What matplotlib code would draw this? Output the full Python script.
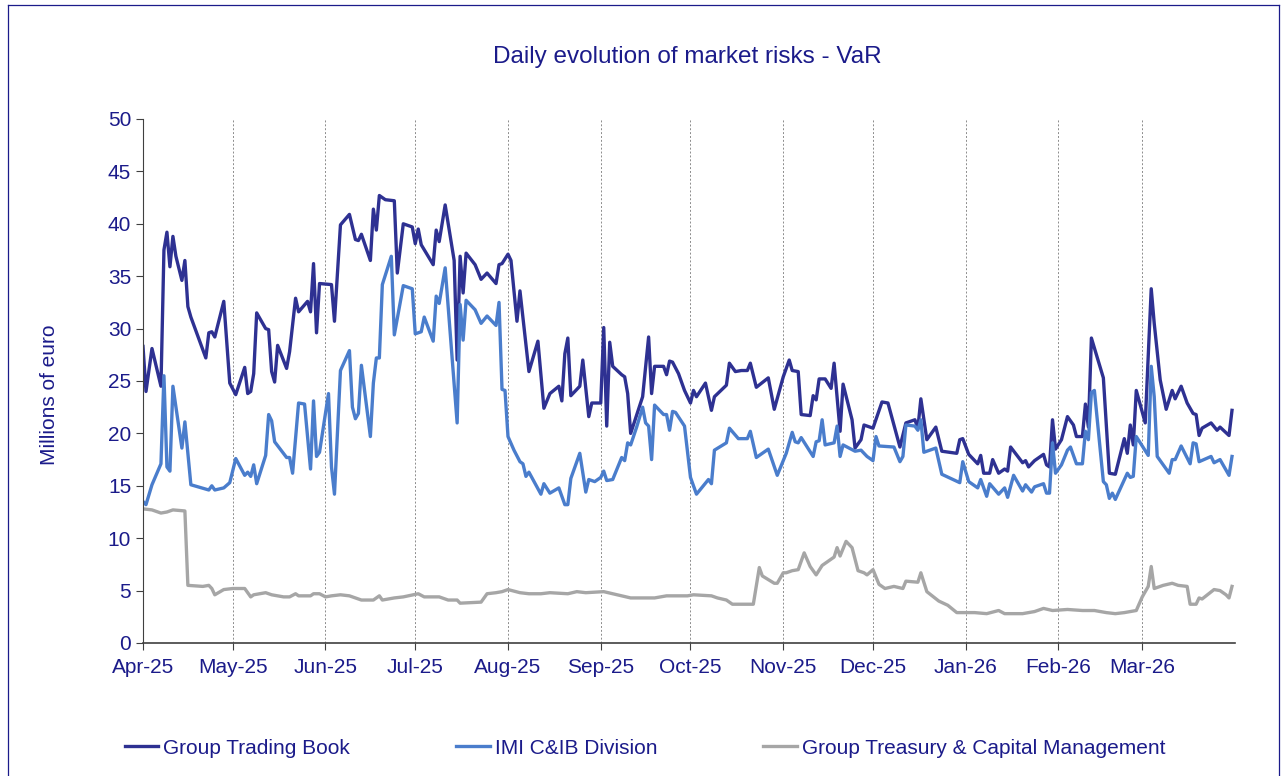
import pandas as pd
import matplotlib.pyplot as plt
import matplotlib.dates as mdates
from matplotlib.lines import Line2D

plt.rcParams['font.family'] = ['Liberation Sans', 'DejaVu Sans']

# dati: giorno dal 1 aprile 2025 -> VaR (milioni di euro)
gtb_day = [0, 1, 3, 6, 7, 8, 9, 10, 11, 13, 14, 15, 16, 21, 22, 23, 24, 27, 29, 31,
           34, 35, 36, 37, 38, 41, 42, 43, 44, 45, 48, 49, 51, 52, 55, 56, 57, 58, 59, 63,
           64, 66, 69, 71, 72, 73, 76, 77, 78, 79, 81, 84, 85, 87, 90, 91, 92, 93, 97, 98,
           99, 101, 104, 105, 106, 107, 108, 111, 113, 115, 118, 119, 120, 122, 123, 125, 126, 129, 132, 134,
           136, 139, 140, 141, 142, 143, 146, 147, 149, 150, 153, 154, 155, 156, 157, 160, 161, 162, 163, 167,
           169, 170, 171, 174, 175, 176, 177, 179, 181, 183, 184, 185, 188, 190, 191, 195, 196, 198, 200, 202,
           203, 205, 209, 211, 214, 216, 217, 219, 220, 223, 224, 225, 226, 228, 230, 231, 233, 234, 237, 238,
           240, 241, 244, 247, 249, 253, 255, 258, 259, 260, 262, 265, 267, 272, 273, 274, 276, 279, 280, 281,
           283, 284, 286, 288, 289, 290, 294, 295, 296, 298, 301, 302, 303, 304, 305, 307, 309, 311, 312, 314,
           315, 316, 317, 321, 323, 325, 328, 329, 330, 331, 332, 335, 337, 338, 340, 342, 344, 345, 347, 349,
           351, 352, 353, 354, 357, 359, 360, 363, 364]
gtb_val = [28.3, 24.0, 28.1, 24.5, 37.5, 39.2, 35.9, 38.8, 36.9, 34.6, 36.5, 32.1, 31.1, 27.2, 29.6, 29.7, 29.2, 32.6, 24.8, 23.7,
           26.3, 23.8, 24.0, 25.7, 31.5, 30.0, 29.9, 25.9, 24.9, 28.4, 26.2, 27.8, 32.9, 31.6, 32.6, 31.6, 36.2, 29.6, 34.3, 34.2,
           30.7, 39.9, 40.9, 38.5, 38.4, 39.0, 36.5, 41.4, 39.4, 42.7, 42.3, 42.2, 35.3, 40.0, 39.7, 38.1, 39.5, 38.0, 36.1, 39.4,
           38.3, 41.8, 36.5, 27.0, 36.9, 33.4, 37.2, 36.1, 34.7, 35.3, 34.3, 36.1, 36.2, 37.1, 36.5, 30.7, 33.6, 25.9, 28.8, 22.4,
           23.8, 24.5, 23.1, 27.6, 29.1, 23.6, 24.5, 27.0, 21.6, 22.9, 22.9, 30.1, 20.7, 28.7, 26.4, 25.6, 25.4, 23.8, 20.0, 23.5,
           29.2, 23.8, 26.4, 26.4, 25.6, 26.9, 26.8, 25.7, 24.1, 22.9, 24.1, 23.5, 24.8, 22.2, 23.5, 24.6, 26.7, 25.9, 26.0, 26.0,
           26.7, 24.4, 25.3, 22.3, 25.4, 27.0, 26.0, 25.9, 21.8, 21.7, 23.6, 23.2, 25.2, 25.2, 24.3, 26.7, 20.2, 24.7, 21.3, 18.6,
           19.4, 20.8, 20.5, 23.0, 22.9, 18.7, 21.0, 21.3, 20.5, 23.3, 19.4, 20.6, 18.3, 18.1, 19.4, 19.5, 18.0, 17.1, 17.9, 16.2,
           16.2, 17.5, 16.2, 16.6, 16.4, 18.7, 17.2, 17.4, 16.8, 17.4, 18.0, 17.0, 16.8, 21.3, 18.5, 19.4, 21.6, 20.8, 19.7, 19.7,
           22.8, 20.6, 29.1, 25.3, 16.2, 16.1, 19.5, 18.1, 20.8, 18.9, 24.1, 21.0, 33.8, 30.5, 25.1, 22.3, 24.1, 23.3, 24.5, 22.9,
           21.9, 21.8, 19.8, 20.5, 21.0, 20.3, 20.6, 19.8, 22.2]

imi_day = [0, 1, 3, 6, 7, 8, 9, 10, 13, 14, 16, 22, 23, 24, 27, 29, 31, 34, 35, 36,
           37, 38, 41, 42, 43, 44, 48, 49, 50, 52, 54, 56, 57, 58, 59, 62, 63, 64, 66, 69,
           70, 71, 72, 73, 76, 77, 78, 79, 80, 83, 84, 87, 90, 91, 93, 94, 97, 98, 99, 101,
           105, 106, 107, 108, 111, 113, 115, 118, 119, 120, 121, 122, 124, 126, 127, 128, 129, 133, 134, 136,
           139, 141, 142, 143, 146, 148, 149, 151, 153, 154, 155, 157, 160, 161, 162, 163, 165, 167, 168, 169,
           170, 171, 174, 175, 176, 177, 178, 181, 183, 185, 189, 190, 191, 195, 196, 199, 202, 203, 205, 209,
           212, 215, 217, 218, 219, 220, 224, 225, 226, 227, 228, 231, 232, 233, 234, 238, 240, 242, 244, 245,
           246, 251, 253, 254, 255, 258, 259, 260, 261, 265, 267, 273, 274, 276, 279, 280, 282, 283, 286, 288,
           289, 291, 294, 295, 297, 298, 301, 302, 303, 304, 305, 307, 309, 310, 312, 314, 315, 316, 317, 318,
           321, 322, 323, 324, 325, 329, 330, 331, 332, 336, 337, 338, 339, 343, 344, 345, 347, 350, 351, 352,
           353, 357, 358, 360, 363, 364]
imi_val = [13.5, 13.2, 15.1, 17.1, 25.5, 16.8, 16.4, 24.5, 18.6, 21.1, 15.1, 14.6, 15.0, 14.6, 14.8, 15.3, 17.6, 16.0, 16.3, 15.9,
           17.0, 15.2, 17.9, 21.8, 21.2, 19.2, 17.7, 17.7, 16.2, 22.9, 22.8, 16.6, 23.1, 17.8, 18.2, 23.8, 16.8, 14.2, 26.0, 27.9,
           22.5, 21.4, 21.9, 26.5, 19.7, 24.8, 27.2, 27.2, 34.2, 36.9, 29.4, 34.1, 33.8, 29.5, 29.7, 31.1, 28.8, 33.1, 32.4, 35.8,
           21.0, 32.3, 28.9, 32.7, 31.8, 30.5, 31.2, 30.3, 32.5, 24.2, 24.1, 19.7, 18.4, 17.3, 17.1, 15.9, 16.3, 14.2, 15.2, 14.3,
           14.8, 13.2, 13.2, 15.7, 18.1, 14.4, 15.6, 15.4, 15.8, 16.4, 15.5, 15.6, 17.7, 17.4, 19.1, 18.9, 20.6, 22.5, 21.0, 20.7,
           17.5, 22.7, 21.8, 21.8, 20.3, 22.1, 22.0, 20.7, 15.8, 14.2, 15.6, 15.2, 18.4, 19.1, 20.5, 19.5, 19.5, 20.2, 17.7, 18.5,
           16.0, 18.1, 20.1, 19.2, 19.1, 19.6, 17.8, 19.2, 19.3, 21.3, 18.9, 19.1, 20.7, 17.8, 18.9, 18.3, 18.4, 17.8, 17.4, 19.7,
           18.8, 18.7, 17.3, 17.8, 20.8, 20.7, 20.3, 21.3, 18.2, 18.6, 16.1, 15.3, 17.3, 15.4, 14.8, 15.6, 14.0, 15.2, 14.2, 14.8,
           13.9, 16.0, 14.5, 15.1, 14.4, 14.9, 15.2, 14.3, 14.3, 19.1, 16.2, 17.0, 18.4, 18.7, 17.1, 17.1, 20.2, 19.4, 23.9, 24.1,
           15.4, 15.1, 13.8, 14.3, 13.7, 16.2, 15.8, 15.9, 19.7, 17.9, 26.4, 23.5, 17.8, 16.2, 17.5, 17.5, 18.8, 17.1, 19.1, 19.0,
           17.3, 17.8, 17.2, 17.5, 16.0, 17.8]

gtcm_day = [0, 3, 6, 8, 10, 14, 15, 20, 22, 23, 24, 27, 30, 34, 36, 37, 41, 43, 47, 49,
            51, 52, 56, 57, 59, 61, 63, 66, 69, 73, 77, 79, 80, 84, 87, 92, 94, 99, 102, 105,
            106, 113, 115, 118, 120, 122, 126, 129, 133, 136, 142, 145, 148, 154, 157, 163, 171, 175, 182, 184,
            190, 192, 195, 197, 200, 204, 206, 207, 211, 212, 214, 215, 217, 219, 221, 223, 225, 227, 231, 232,
            233, 235, 237, 239, 241, 242, 244, 246, 248, 251, 254, 255, 259, 260, 262, 266, 269, 272, 278, 282,
            286, 288, 294, 298, 301, 304, 309, 314, 318, 322, 325, 328, 332, 334, 336, 337, 338, 339, 341, 344,
            346, 349, 350, 352, 353, 354, 358, 360, 362, 363, 364]
gtcm_val = [12.8, 12.7, 12.4, 12.5, 12.7, 12.6, 5.5, 5.4, 5.5, 5.2, 4.6, 5.1, 5.2, 5.2, 4.4, 4.6, 4.8, 4.6, 4.4, 4.4,
            4.7, 4.5, 4.5, 4.7, 4.7, 4.4, 4.5, 4.6, 4.5, 4.1, 4.1, 4.5, 4.1, 4.3, 4.4, 4.7, 4.4, 4.4, 4.1, 4.1,
            3.8, 3.9, 4.7, 4.8, 4.9, 5.1, 4.8, 4.7, 4.7, 4.8, 4.7, 4.9, 4.8, 4.9, 4.7, 4.3, 4.3, 4.5, 4.5, 4.6,
            4.5, 4.3, 4.1, 3.7, 3.7, 3.7, 7.2, 6.4, 5.7, 5.7, 6.7, 6.7, 6.9, 7.0, 8.6, 7.3, 6.5, 7.4, 8.2, 9.1,
            8.3, 9.7, 9.1, 6.9, 6.7, 6.5, 7.0, 5.6, 5.2, 5.4, 5.2, 5.9, 5.8, 6.7, 4.9, 4.0, 3.6, 2.9, 2.9, 2.8,
            3.1, 2.8, 2.8, 3.0, 3.3, 3.1, 3.2, 3.1, 3.1, 2.9, 2.8, 2.9, 3.1, 4.4, 5.4, 7.3, 5.2, 5.3, 5.5, 5.7,
            5.5, 5.4, 3.7, 3.7, 4.3, 4.2, 5.1, 5.0, 4.6, 4.3, 5.4]

series_names = ['Group Trading Book', 'IMI C&IB Division', 'Group Treasury & Capital Management']
colors = ['#2E3192', '#4A7DCC', '#A6A6A6']
navy = '#1B1B8A'

start = pd.Timestamp('2025-04-01')


def to_dates(days):
    return start + pd.to_timedelta(days, unit='D')


fig = plt.figure(figsize=(12.81, 7.76), dpi=100)
ax = fig.add_axes([143 / 1281, 133 / 776, 1092 / 1281, 524 / 776])

for days, vals, col in zip([gtb_day, imi_day, gtcm_day], [gtb_val, imi_val, gtcm_val], colors):
    ax.plot(to_dates(days), vals, color=col, lw=2.4, solid_joinstyle='round')

months = pd.date_range('2025-04-01', '2026-03-01', freq='MS')
ax.set_xticks(months)
ax.xaxis.set_major_formatter(mdates.DateFormatter('%b-%y'))
ax.set_xlim(start, start + pd.Timedelta(days=365))
ax.set_ylim(0, 50)
ax.set_yticks(range(0, 51, 5))
for m in months[1:]:
    ax.axvline(m, color='#8C8C8C', lw=0.7, ls=(0, (2, 2)), zorder=0)

for s in ['top', 'right']:
    ax.spines[s].set_visible(False)
ax.spines['left'].set_color('#404040')
ax.spines['bottom'].set_color('#404040')
ax.spines['bottom'].set_linewidth(1.2)
ax.tick_params(axis='both', colors='#404040', labelcolor=navy, labelsize=15, direction='out', length=5)
ax.tick_params(axis='x', pad=6)
ax.set_ylabel('Millions of euro', color=navy, fontsize=15)
ax.yaxis.set_label_coords(-0.077, 0.473)
fig.text(687 / 1281, 1 - 57 / 776, 'Daily evolution of market risks - VaR', ha='center', va='center',
         color=navy, fontsize=17.5)

handles = [Line2D([], [], color=c, lw=2.4) for c in colors]
fig.legend(handles, series_names, loc='center', bbox_to_anchor=(645 / 1281, 1 - 748 / 776), ncol=3,
           frameon=False, fontsize=15, labelcolor=navy, handlelength=1.6, handletextpad=0.25,
           columnspacing=5.1)

# cornice esterna (sopra, sinistra, destra)
for xs, ys in [([8, 8], [776, 5]), ([8, 1279], [5, 5]), ([1279, 1279], [5, 776])]:
    fig.add_artist(Line2D([x / 1281 for x in xs], [1 - y / 776 for y in ys], color=navy, lw=0.9,
                          transform=fig.transFigure))

fig.savefig('out.png', dpi=100)
